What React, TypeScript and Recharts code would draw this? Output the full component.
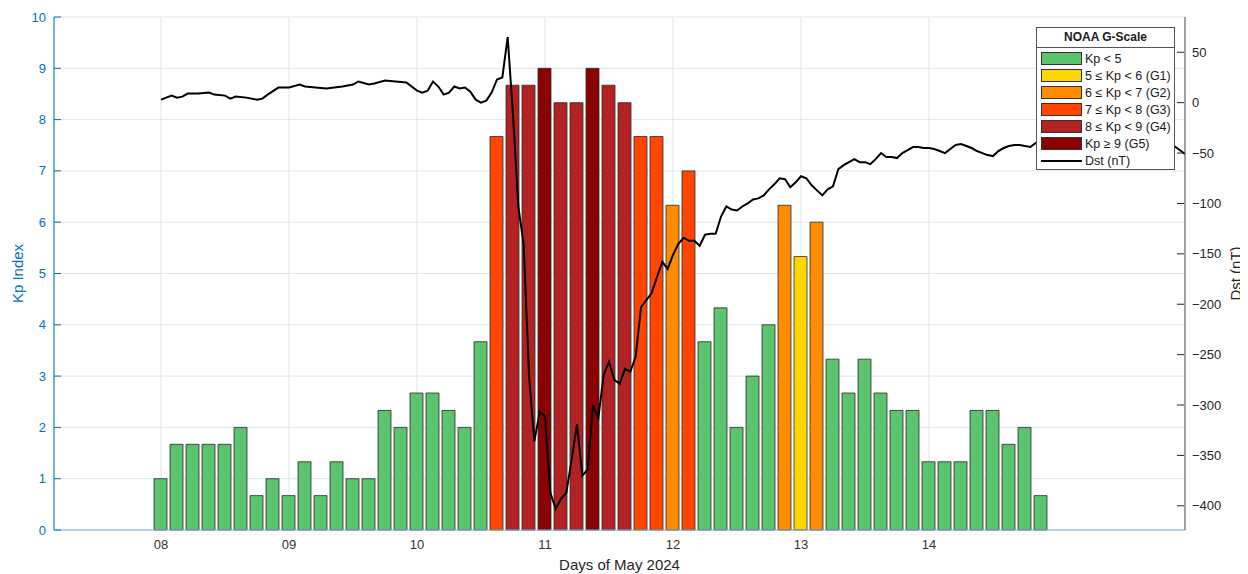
import { ComposedChart, Bar, Line, XAxis, YAxis, CartesianGrid, Cell, Legend } from 'recharts'

// Kp index, 3-hourly, 8 values per day (08 -> 14 May 2024)
const kpValues = [
  // 08
  1, 1.67, 1.67, 1.67, 1.67, 2, 0.67, 1,
  // 09
  0.67, 1.33, 0.67, 1.33, 1, 1, 2.33, 2,
  // 10
  2.67, 2.67, 2.33, 2, 3.67, 7.67, 8.67, 8.67,
  // 11
  9, 8.33, 8.33, 9, 8.67, 8.33, 7.67, 7.67,
  // 12
  6.33, 7, 3.67, 4.33, 2, 3, 4, 6.33,
  // 13
  5.33, 6, 3.33, 2.67, 3.33, 2.67, 2.33, 2.33,
  // 14
  1.33, 1.33, 1.33, 2.33, 2.33, 1.67, 2, 0.67,
]

// Dst (nT), hours since 08 May 00:00
const dstHours = [
  0, 2, 3, 4, 5, 7, 9, 10, 12, 13, 14, 16, 18, 19, 20, 22, 24, 26, 27, 31,
  34, 36, 37, 39, 40, 42, 44, 46, 48, 49, 50, 51, 52, 53, 54, 55, 56, 57, 58, 59,
  60, 61, 62, 63, 64, 65, 66, 67, 68, 69, 70, 71, 72, 73, 74, 75, 76, 77, 78, 79,
  80, 81, 82, 83, 84, 85, 86, 87, 88, 89, 90, 91, 92, 93, 94, 95, 96, 97, 98, 99,
  100, 101, 102, 103, 104, 105, 106, 107, 108, 109, 110, 111, 112, 113, 114, 115, 116, 117, 118, 119,
  120, 121, 122, 123, 124, 125, 126, 127, 128, 129, 130, 131, 132, 133, 134, 135, 136, 137, 138, 139,
  140, 141, 142, 143, 144, 145, 146, 147, 148, 149, 150, 151, 152, 153, 154, 155, 156, 157, 158, 159,
  160, 161, 162, 163, 164, 168, 172, 176, 180, 184, 189, 190, 191, 192,
]
const dstValues = [
  3, 7, 5, 6, 9, 9, 10, 8, 7, 4, 6, 5, 3, 4, 8, 15, 15, 18, 16, 14,
  16, 18, 21, 18, 19, 22, 21, 20, 12, 10, 12, 21, 16, 8, 10, 16, 14, 15, 11, 3,
  0, 2, 10, 23, 25, 65, -12, -103, -141, -270, -336, -307, -311, -387, -403, -393, -387, -354, -319, -370,
  -364, -300, -313, -270, -257, -275, -279, -264, -267, -252, -203, -196, -189, -173, -158, -165, -151, -140, -134, -137,
  -137, -142, -131, -130, -130, -113, -103, -106, -107, -103, -100, -96, -95, -92, -86, -81, -75, -76, -84, -79,
  -73, -75, -82, -87, -92, -86, -83, -66, -62, -59, -56, -59, -59, -61, -56, -50, -54, -54, -55, -50,
  -47, -44, -44, -45, -45, -46, -48, -50, -46, -42, -41, -43, -45, -48, -50, -52, -53, -48, -45, -43,
  -42, -42, -43, -44, -40, -42, -44, -41, -43, -41, -40, -43, -47, -51,
]

const dayTicks = [8, 9, 10, 11, 12, 13, 14]
const kpTicks = [0, 1, 2, 3, 4, 5, 6, 7, 8, 9, 10]
const dstTicks = [50, 0, -50, -100, -150, -200, -250, -300, -350, -400]

const kpData = kpValues.map((kp, i) => ({ day: 8 + i / 8, kp }))
const dstData = dstHours.map((h, i) => ({ day: 8 + h / 24, dst: dstValues[i] }))

const FONT = '"Liberation Sans", Arial, Helvetica, sans-serif'
const BLUE = '#0072BD'
const X_MIN = 7.164
const X_MAX = 16

const scaleItems = [
  { label: 'Kp < 5', color: '#5cc46e' },
  { label: '5 ≤ Kp < 6 (G1)', color: '#ffd700' },
  { label: '6 ≤ Kp < 7 (G2)', color: '#ff8c00' },
  { label: '7 ≤ Kp < 8 (G3)', color: '#ff4500' },
  { label: '8 ≤ Kp < 9 (G4)', color: '#b22222' },
  { label: 'Kp ≥ 9 (G5)', color: '#8b0000' },
]

// couleur selon l'échelle NOAA
const getColor = (kp: number) => {
  if (kp >= 9) return scaleItems[5].color
  if (kp >= 8) return scaleItems[4].color
  if (kp >= 7) return scaleItems[3].color
  if (kp >= 6) return scaleItems[2].color
  if (kp >= 5) return scaleItems[1].color
  return scaleItems[0].color
}

const KpTick = (props: any) => {
  const { x, y, payload } = props
  return (
    <g>
      <line x1={x + 8} x2={x + 15} y1={y} y2={y} stroke={BLUE} strokeWidth={1} />
      <text x={x} y={y} dy={4.5} textAnchor="end" fill={BLUE} fontSize={13} fontFamily={FONT}>
        {payload.value}
      </text>
    </g>
  )
}

const DstTick = (props: any) => {
  const { x, y, payload } = props
  const v = Number(payload.value)
  return (
    <g>
      <line x1={x - 15} x2={x - 8} y1={y} y2={y} stroke="#262626" strokeWidth={1} />
      <text x={x} y={y} dy={4.5} textAnchor="start" fill="#262626" fontSize={13} fontFamily={FONT}>
        {v < 0 ? `\u2212${Math.abs(v)}` : v}
      </text>
    </g>
  )
}

function GScaleLegend() {
  return (
    <div
      style={{
        width: 137,
        background: '#fff',
        border: '1px solid #555',
        fontFamily: FONT,
        color: '#1a1a1a',
      }}
    >
      <div
        style={{
          textAlign: 'center',
          fontWeight: 'bold',
          fontSize: 12,
          height: 19,
          lineHeight: '19px',
          borderBottom: '1px solid #555',
        }}
      >
        NOAA G-Scale
      </div>
      <div style={{ paddingTop: 2 }}>
        {scaleItems.map((item) => (
          <div key={item.label} style={{ display: 'flex', alignItems: 'center', height: 17 }}>
            <div
              style={{
                width: 39,
                height: 11,
                marginLeft: 4,
                marginRight: 3,
                background: item.color,
                border: '1px solid #333',
              }}
            />
            <span style={{ fontSize: 12.5, whiteSpace: 'nowrap' }}>{item.label}</span>
          </div>
        ))}
        <div style={{ display: 'flex', alignItems: 'center', height: 17 }}>
          <div style={{ width: 41, height: 2, marginLeft: 4, marginRight: 3, background: '#000' }} />
          <span style={{ fontSize: 12.5 }}>Dst (nT)</span>
        </div>
      </div>
    </div>
  )
}

export default function App() {
  return (
    <div style={{ fontFamily: FONT }}>
      <ComposedChart
        width={1240}
        height={566}
        data={kpData}
        margin={{ top: 9, right: 0, left: 0, bottom: 0 }}
        style={{ fontFamily: FONT }}
      >
        <CartesianGrid xAxisId="kp" yAxisId="kp" vertical={false} stroke="#dbe7f1" />
        <CartesianGrid xAxisId="kp" yAxisId="kp" horizontal={false} stroke="#e3e3e3" />
        <XAxis
          xAxisId="kp"
          dataKey="day"
          type="number"
          domain={[X_MIN, X_MAX]}
          ticks={dayTicks}
          allowDataOverflow
          tickFormatter={(d) => String(d).padStart(2, '0')}
          tickLine={false}
          tickSize={0}
          tickMargin={10}
          axisLine={{ stroke: '#8ab4d8' }}
          tick={{ fill: '#333', fontSize: 13, fontFamily: FONT }}
          height={44}
          label={{ value: 'Days of May 2024', position: 'insideBottom', offset: 4, fill: '#262626', fontSize: 15, fontFamily: FONT }}
        />
        <XAxis
          xAxisId="dst"
          dataKey="day"
          type="number"
          orientation="top"
          height={0}
          domain={[X_MIN, X_MAX]}
          allowDataOverflow
          hide
        />
        <YAxis
          yAxisId="kp"
          type="number"
          domain={[0, 10]}
          ticks={kpTicks}
          width={46}
          axisLine={{ stroke: BLUE }}
          tickLine={false}
          tickSize={0}
          tickMargin={8}
          tick={KpTick}
          label={{ value: 'Kp Index', angle: -90, position: 'insideLeft', offset: 10, fill: BLUE, fontSize: 15, fontFamily: FONT, style: { textAnchor: 'middle' } }}
        />
        <YAxis
          yAxisId="dst"
          orientation="right"
          type="number"
          domain={[-424, 85]}
          ticks={dstTicks}
          allowDataOverflow
          width={63}
          axisLine={{ stroke: '#555' }}
          tickLine={false}
          tickSize={0}
          tickMargin={7}
          tick={DstTick}
          label={{ value: 'Dst (nT)', angle: -90, position: 'insideRight', offset: 12, fill: '#262626', fontSize: 15, fontFamily: FONT, style: { textAnchor: 'middle' } }}
        />
        <Bar
          xAxisId="kp"
          yAxisId="kp"
          dataKey="kp"
          barSize={13}
          stroke="#2b2b2b"
          strokeWidth={0.8}
          isAnimationActive={false}
        >
          {kpData.map((entry, index) => (
            <Cell key={`kp-${index}`} fill={getColor(entry.kp)} />
          ))}
        </Bar>
        <Line
          xAxisId="dst"
          yAxisId="dst"
          data={dstData}
          dataKey="dst"
          type="linear"
          stroke="#000"
          strokeWidth={2}
          dot={false}
          activeDot={false}
          isAnimationActive={false}
        />
        <Legend
          layout="vertical"
          align="center"
          verticalAlign="middle"
          content={() => <GScaleLegend />}
          wrapperStyle={{ left: 1028, top: 19, width: 139, height: 'auto' }}
        />
      </ComposedChart>
    </div>
  )
}
